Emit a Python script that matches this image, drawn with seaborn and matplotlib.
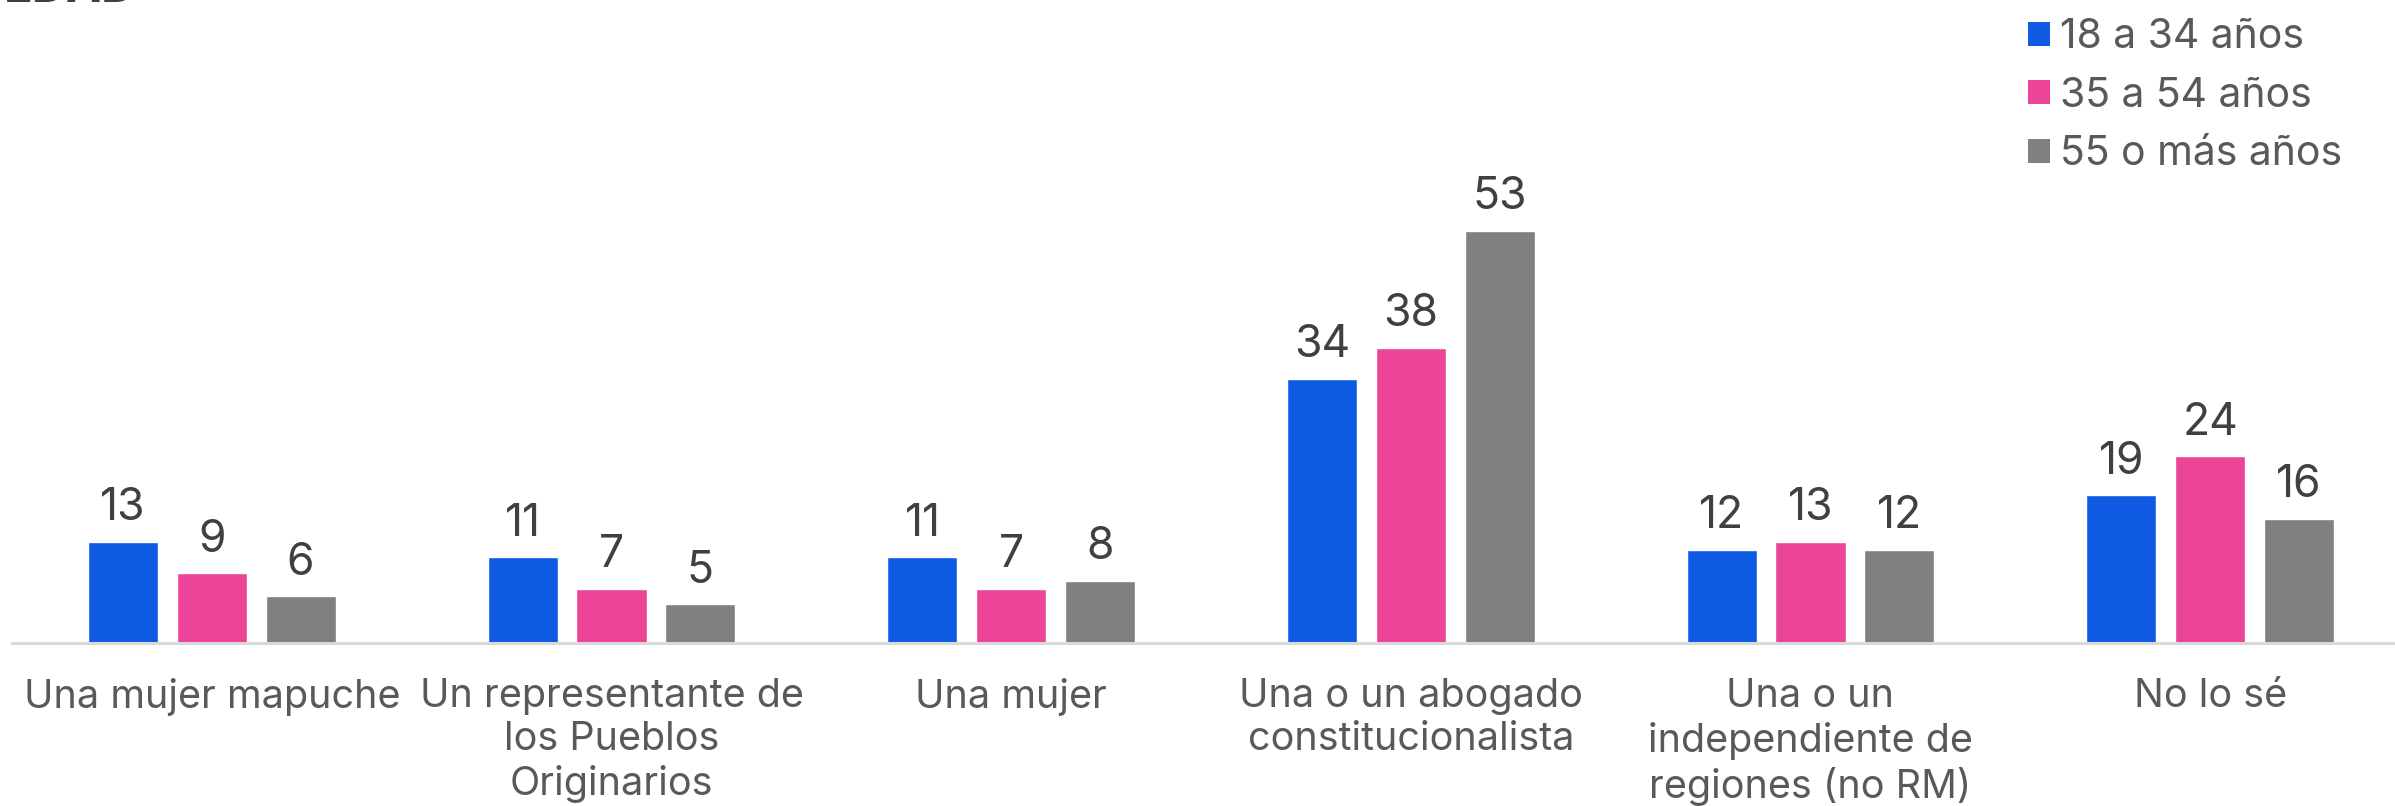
import matplotlib
matplotlib.use("Agg")
import matplotlib.pyplot as plt
from matplotlib.patches import Patch
import seaborn as sns
import pandas as pd

categories = [
    "Una mujer mapuche",
    "Un representante de\nlos Pueblos\nOriginarios",
    "Una mujer",
    "Una o un abogado\nconstitucionalista",
    "Una o un\nindependiente de\nregiones (no RM)",
    "No lo sé",
]
groups = ["18 a 34 años", "35 a 54 años", "55 o más años"]
edad_18_34 = [13, 11, 11, 34, 12, 19]
edad_35_54 = [9, 7, 7, 38, 13, 24]
edad_55_mas = [6, 5, 8, 53, 12, 16]
colors = ["#105BE4", "#EC4497", "#808080"]

rows = []
for g, vals in zip(groups, [edad_18_34, edad_35_54, edad_55_mas]):
    for c, v in zip(categories, vals):
        rows.append({"categoria": c, "edad": g, "valor": v})
df = pd.DataFrame(rows)

sns.set_theme(style="white")
plt.rcParams["font.family"] = ["Inter", "DejaVu Sans"]

W, H = 2395, 806
fig = plt.figure(figsize=(W / 100, H / 100), dpi=100)
base_y = 643
ax = fig.add_axes([12 / W, (H - base_y) / H, 2398 / W, base_y / H])

sns.barplot(data=df, x="categoria", y="valor", hue="edad", order=categories,
            hue_order=groups, palette=colors, width=0.666, gap=0.21,
            ax=ax, legend=False, saturation=1)

ax.set_xlim(-0.5, 5.5)
ax.set_ylim(0, 82.7)
for cont in ax.containers:
    ax.bar_label(cont, fmt="%d", padding=9, fontsize=32, color="#404040")

for s in ["top", "right", "left"]:
    ax.spines[s].set_visible(False)
ax.spines["bottom"].set_color("#d9d9d9")
ax.spines["bottom"].set_linewidth(2.2)
ax.set_yticks([])
ax.set_xlabel("")
ax.set_ylabel("")
ax.tick_params(axis="x", length=0, pad=25, labelsize=28.5, labelcolor="#595959")
for t in ax.get_xticklabels():
    t.set_linespacing(1.23)

handles = [Patch(facecolor=c, edgecolor="none") for c in colors]
fig.legend(handles, groups, loc="upper left", bbox_to_anchor=(2012 / W, 1 - 2 / H),
           frameon=False, fontsize=29.4, labelcolor="#595959",
           handlelength=0.52, handleheight=0.52, handletextpad=0.25,
           labelspacing=0.5, borderaxespad=0)

fig.text(4 / W, 1 - 2 / H, "EDAD", ha="left", va="baseline", fontsize=34,
         fontweight="bold", color="#404040")

fig.savefig("out.png", dpi=100)
